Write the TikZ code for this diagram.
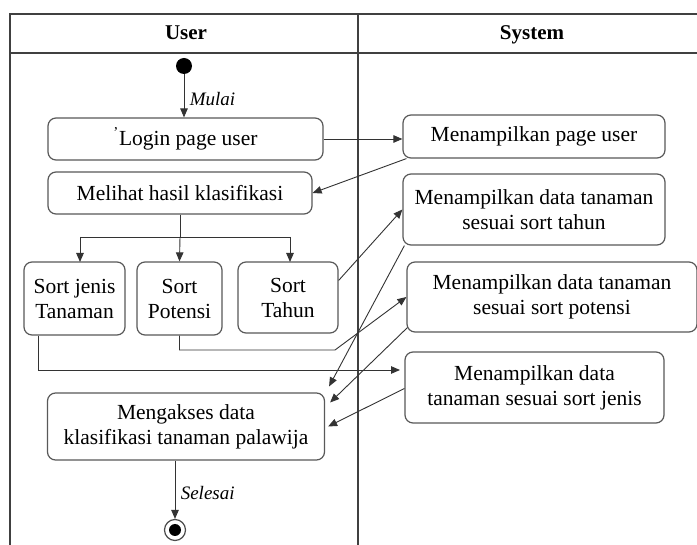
\documentclass[tikz,border=0pt]{standalone}
\usepackage{fontspec}
\setmainfont{Liberation Serif}
\usetikzlibrary{arrows.meta}
\begin{document}
\begin{tikzpicture}[x=1pt,y=-1pt,
  lane/.style={draw=black!75,line width=1.4pt},
  head/.style={font=\fontsize{21}{24}\selectfont\bfseries,anchor=base},
  act/.style={draw=black!65,line width=1.2pt,rounded corners=8pt,align=center,
    font=\fontsize{21.5}{25}\selectfont,inner sep=1pt,fill=white},
  flow/.style={draw=black!80,line width=0.9pt,-{Triangle[length=9pt,width=7.5pt]}},
  plain/.style={draw=black!80,line width=0.9pt},
  lbl/.style={font=\fontsize{19}{22}\selectfont\itshape,anchor=west}]
\useasboundingbox (0,0) rectangle (697,545);
\fill[white] (0,0) rectangle (697,545);

% swimlane frame
\draw[lane] (10,545) -- (10,14) -- (697,14);
\draw[lane] (10,53) -- (697,53);
\draw[lane] (358,14) -- (358,545);
\node[head] (hUser) at (186,40) {User};
\node[head] (hSys) at (532,40) {System};

% start and end
\node[circle,fill=black,inner sep=0pt,minimum size=16pt] (start) at (184,66) {};
\node[circle,draw=black!70,line width=1.2pt,inner sep=0pt,minimum size=21pt] (stop) at (175,530) {};
\node[circle,fill=black,inner sep=0pt,minimum size=12pt] (stopdot) at (175,530) {};

% activities of the user
\node[act,minimum width=275pt,minimum height=42pt] (login) at (185.5,139) {\textsuperscript{'}Login page user};
\node[act,minimum width=264pt,minimum height=42pt] (melihat) at (180,193) {Melihat hasil klasifikasi};
\node[act,minimum width=101pt,minimum height=73pt] (jenis) at (74.5,298.5) {Sort jenis\\Tanaman};
\node[act,minimum width=85pt,minimum height=73pt] (potensi) at (179.5,298.5) {Sort\\Potensi};
\node[act,minimum width=100pt,minimum height=71pt] (tahun) at (288,297.5) {Sort\\Tahun};
\node[act,minimum width=277pt,minimum height=67pt] (akses) at (186,426.5) {Mengakses data\\klasifikasi tanaman palawija};

% activities of the system
\node[act,minimum width=262pt,minimum height=43pt] (page) at (534,136.5) {Menampilkan page user};
\node[act,minimum width=262pt,minimum height=71pt] (stahun) at (534,209.5) {Menampilkan data tanaman\\sesuai sort tahun};
\node[act,minimum width=290pt,minimum height=70pt] (spotensi) at (552,297) {Menampilkan data tanaman\\sesuai sort potensi};
\node[act,minimum width=259pt,minimum height=71pt] (sjenis) at (534.5,387.5) {Menampilkan data\\tanaman sesuai sort jenis};

% control flow
\draw[flow] (start) -- (start |- login.north) node[lbl,midway,xshift=2pt,yshift=-3pt] {Mulai};
\draw[flow] (login.east) -- (login.east -| page.west);
\draw[flow] ([xshift=4pt]page.south west) -- (melihat.east);

\coordinate (fork) at (180,237);
\draw[plain] (melihat.south) -- (fork);
\draw[plain] (80,237) -- (290,237);
\draw[flow] (80,237) -- (80,262);
\draw[flow] (fork) -- (potensi.north);
\draw[flow] (290,237) -- (290,262);

\coordinate (bendP) at (335,350);
\coordinate (bendJ) at (38,370);
\draw[flow] ([yshift=17pt]tahun.east) -- (stahun.west);
\draw[flow] (potensi.south) |- (bendP) -- (spotensi.west);
\draw[flow] (jenis.south -| bendJ) -- (bendJ) -- (400,370);

\draw[flow] ([xshift=2pt]stahun.south west) -- ([xshift=4pt,yshift=6pt]akses.north east);
\draw[flow] ([xshift=1pt,yshift=5pt]spotensi.south west) -- ([xshift=5pt,yshift=24pt]akses.east);
\draw[flow] ([yshift=-1pt]sjenis.west) -- ([xshift=3pt]akses.east);

\draw[flow] (akses.south -| stop) -- (stop.north) node[lbl,midway,xshift=2pt,yshift=-3pt] {Selesai};
\end{tikzpicture}
\end{document}
